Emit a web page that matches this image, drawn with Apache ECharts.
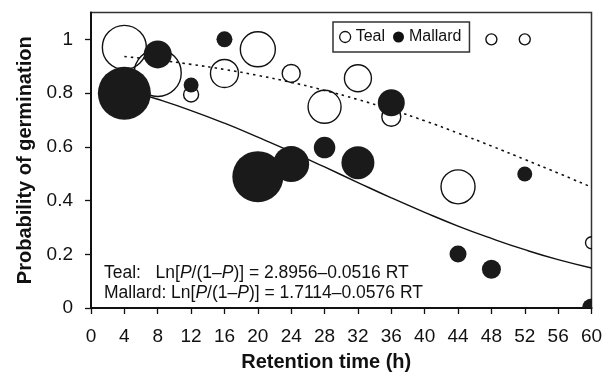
<!DOCTYPE html>
<html>
<head>
<meta charset="utf-8">
<script src="https://cdn.jsdelivr.net/npm/echarts@6/dist/echarts.min.js"></script>
<style>
  html, body { margin: 0; padding: 0; background: #fff; }
  #chart { width: 615px; height: 373px; }
</style>
</head>
<body>
<div id="chart"></div>
<script>
// retention time (h) of each observation
var tealTime = [4, 8, 12, 16, 20, 24, 28, 32, 36, 44, 48, 52, 60];
var tealProb = [0.97, 0.875, 0.795, 0.873, 0.963, 0.873, 0.749, 0.855, 0.712, 0.451, 1.0, 1.0, 0.243];
// relative bubble size
var tealBubble = [22, 23.5, 7.5, 14, 17.5, 9, 16.5, 13.5, 9.5, 17, 5.5, 5.5, 6];

var mallardTime = [4, 8, 12, 16, 20, 24, 28, 32, 36, 44, 48, 52, 60];
var mallardProb = [0.799, 0.944, 0.83, 1.0, 0.489, 0.536, 0.597, 0.541, 0.764, 0.201, 0.144, 0.499, 0];
var mallardBubble = [26.5, 14, 7.5, 8, 25.5, 18, 10.75, 16.5, 13.5, 8.5, 9.5, 7.5, 9.5];

// fitted curves, read at every 4 h
var fitTime = [4, 8, 12, 16, 20, 24, 28, 32, 36, 40, 44, 48, 52, 56, 60];
var tealFit = [0.936, 0.923, 0.907, 0.888, 0.866, 0.84, 0.81, 0.776, 0.738, 0.697, 0.651, 0.603, 0.553, 0.502, 0.45];
var mallardFit = [0.815, 0.777, 0.735, 0.688, 0.636, 0.582, 0.525, 0.467, 0.41, 0.356, 0.305, 0.259, 0.217, 0.18, 0.149];

var yTicks = [0, 0.2, 0.4, 0.6, 0.8, 1];

var FONT = "'Liberation Sans', Arial, Helvetica, sans-serif";
var INK = "#111";
var BUBBLE_SCALE = 2;

function zip(a, b, c) {
  return a.map(function (v, i) {
    return c ? [v, b[i], c[i]] : [v, b[i]];
  });
}

function bubble(style) {
  return function (params, api) {
    var pt = api.coord([api.value(0), api.value(1)]);
    return {
      type: "circle",
      shape: { cx: pt[0], cy: pt[1], r: api.value(2) * BUBBLE_SCALE / 2 },
      style: style,
    };
  };
}

var myChart = echarts.init(document.getElementById("chart"), null, { renderer: "canvas" });

var option = {
  animation: false,
  textStyle: { fontFamily: FONT, color: INK },
  grid: {
    left: 91,
    right: 23.5,
    top: 12.5,
    bottom: 65,
    outerBoundsMode: "none",
    show: true,
    borderColor: "#333",
    borderWidth: 1.5,
    backgroundColor: "transparent",
  },
  legend: {
    left: 333,
    top: 22,
    orient: "horizontal",
    padding: [7, 8, 7, 6],
    itemWidth: 11,
    itemHeight: 11,
    itemGap: 8,
    borderColor: "#333",
    borderWidth: 1.5,
    textStyle: { fontFamily: FONT, fontSize: 16, color: INK, lineHeight: 16 },
    data: [
      { name: "Teal", icon: "circle", itemStyle: { color: "#fff", borderColor: INK, borderWidth: 1.3 } },
      { name: "Mallard", icon: "circle", itemStyle: { color: INK, borderWidth: 0 } },
    ],
  },
  xAxis: {
    type: "value",
    min: 0,
    max: 60,
    interval: 4,
    name: "Retention time (h)",
    nameLocation: "middle",
    nameGap: 44,
    nameTextStyle: { fontFamily: FONT, fontSize: 20, fontWeight: "bold", color: INK, padding: [0, 30, 0, 0] },
    axisLine: { lineStyle: { color: INK, width: 2 } },
    axisTick: { inside: false, length: 6, lineStyle: { color: INK, width: 1.3 } },
    axisLabel: { margin: 19, fontFamily: FONT, fontSize: 19, color: INK },
    splitLine: { show: false },
  },
  yAxis: {
    type: "value",
    min: 0,
    max: 1.1,
    name: "Probability of germination",
    nameLocation: "middle",
    nameGap: 55,
    nameTextStyle: { fontFamily: FONT, fontSize: 20, fontWeight: "bold", color: INK },
    axisLine: { lineStyle: { color: INK, width: 2 } },
    axisTick: { inside: false, length: 6, customValues: yTicks, lineStyle: { color: INK, width: 1.3 } },
    axisLabel: { margin: 18, customValues: yTicks, fontFamily: FONT, fontSize: 19, color: INK },
    splitLine: { show: false },
  },
  graphic: [
    {
      type: "text",
      left: 104,
      top: 263,
      z: 10,
      style: {
        text:
          "Teal:   Ln[{i|P}/(1\u2013{i|P})] = 2.8956\u20130.0516 RT\n" +
          "Mallard: Ln[{i|P}/(1\u2013{i|P})] = 1.7114\u20130.0576 RT",
        fontFamily: FONT,
        fontSize: 17.5,
        lineHeight: 20,
        fill: INK,
        rich: {
          i: { fontFamily: FONT, fontSize: 17.5, fontStyle: "italic", lineHeight: 20, fill: INK },
        },
      },
    },
  ],
  series: [
    {
      name: "Teal",
      type: "custom",
      clip: true,
      z: 2,
      itemStyle: { color: "#fff", borderColor: INK, borderWidth: 1.3 },
      renderItem: bubble({ fill: "none", stroke: INK, lineWidth: 1.4 }),
      data: zip(tealTime, tealProb, tealBubble),
    },
    {
      type: "line",
      z: 3,
      smooth: true,
      showSymbol: false,
      silent: true,
      lineStyle: { color: INK, width: 1.6, type: [2.5, 4] },
      data: zip(fitTime, tealFit),
    },
    {
      type: "line",
      z: 3,
      smooth: true,
      showSymbol: false,
      silent: true,
      lineStyle: { color: INK, width: 1.4, type: "solid" },
      data: zip(fitTime, mallardFit),
    },
    {
      name: "Mallard",
      type: "custom",
      clip: true,
      z: 4,
      itemStyle: { color: INK },
      renderItem: bubble({ fill: "#1a1a1a", stroke: null }),
      data: zip(mallardTime, mallardProb, mallardBubble),
    },
  ],
};

option && myChart.setOption(option);
</script>
</body>
</html>
